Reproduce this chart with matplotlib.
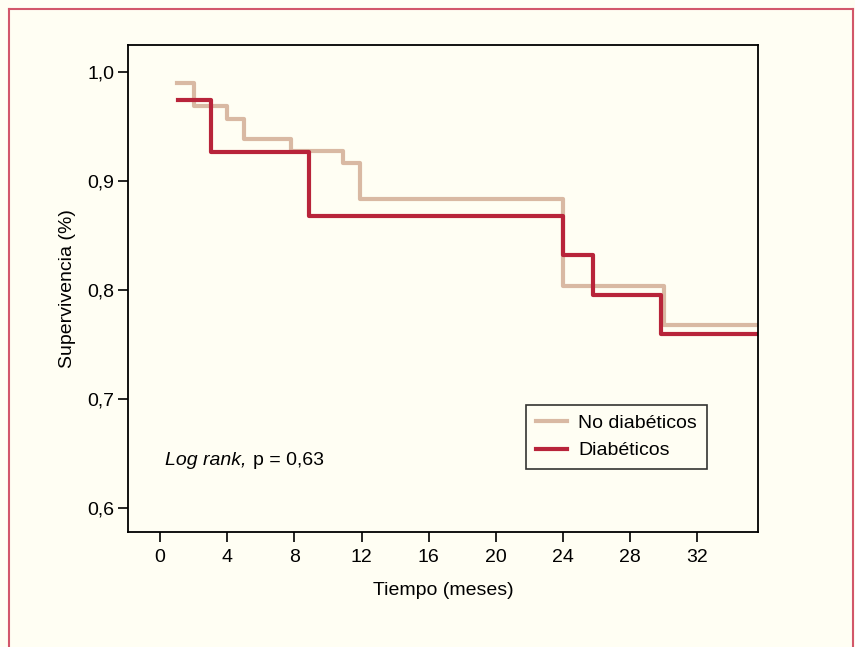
import matplotlib
matplotlib.use("Agg")
import matplotlib.pyplot as plt
from matplotlib.lines import Line2D

plt.rcParams['font.family'] = ['Liberation Sans Narrow', 'Liberation Sans', 'DejaVu Sans']

# curvas de Kaplan-Meier
meses_no_diab = [1.0, 2.0, 4.0, 5.0, 7.8, 10.9, 11.9, 24.0, 30.0, 35.6]
superv_no_diab = [0.990, 0.969, 0.957, 0.939, 0.928, 0.917, 0.884, 0.804, 0.768, 0.768]
meses_diab = [1.1, 3.05, 8.9, 24.0, 25.8, 29.8, 35.6]
superv_diab = [0.975, 0.927, 0.868, 0.832, 0.796, 0.760, 0.760]

xticks = [0, 4, 8, 12, 16, 20, 24, 28, 32]
yticks = [0.6, 0.7, 0.8, 0.9, 1.0]
ytick_labels = ['0,6', '0,7', '0,8', '0,9', '1,0']

fondo = '#fffef3'
col_no_diab = '#d9b9a3'
col_diab = '#b8243a'

fig = plt.figure(figsize=(8.55, 6.47), dpi=100, facecolor=fondo)
ax = fig.add_axes([0.1497, 0.1777, 0.7368, 0.7527], facecolor=fondo)

ax.step(meses_no_diab, superv_no_diab, where='post', color=col_no_diab, lw=3, label='No diabéticos')
ax.step(meses_diab, superv_diab, where='post', color=col_diab, lw=3, label='Diabéticos')

ax.set_xlim(-1.9, 35.6)
ax.set_ylim(0.578, 1.025)
ax.set_xticks(xticks)
ax.set_yticks(yticks)
ax.set_yticklabels(ytick_labels)
ax.tick_params(labelsize=14, length=7, width=1.2)
ax.tick_params(axis='x', pad=5)
ax.tick_params(axis='y', pad=3)
for s in ax.spines.values():
    s.set_linewidth(1.3)

ax.set_xlabel('Tiempo (meses)', fontsize=14, labelpad=12)
ax.set_ylabel('Supervivencia (%)', fontsize=14, labelpad=8)

leg = ax.legend(loc='lower right', bbox_to_anchor=(0.919, 0.129), borderaxespad=0,
                fontsize=14, frameon=True, fancybox=False, edgecolor='black',
                handlelength=1.6, borderpad=0.5, labelspacing=0.5, handletextpad=0.6)
leg.get_frame().set_linewidth(1.2)
leg.get_frame().set_facecolor(fondo)

ax.text(0.0587, 0.1376, 'Log rank,', style='italic', fontsize=14, va='baseline',
        transform=ax.transAxes)
ax.text(0.199, 0.1376, 'p = 0,63', fontsize=14, va='baseline', transform=ax.transAxes)

# marco de la figura
borde = '#d2576a'
x0, x1, y1 = 9 / 855, 853 / 855, 1 - 9 / 647
fig.add_artist(Line2D([x0, x0], [0, y1], color=borde, lw=1.5, transform=fig.transFigure))
fig.add_artist(Line2D([x0, x1], [y1, y1], color=borde, lw=1.5, transform=fig.transFigure))
fig.add_artist(Line2D([x1, x1], [0, y1], color=borde, lw=1.5, transform=fig.transFigure))

fig.savefig('out.png', dpi=100, facecolor=fondo)
